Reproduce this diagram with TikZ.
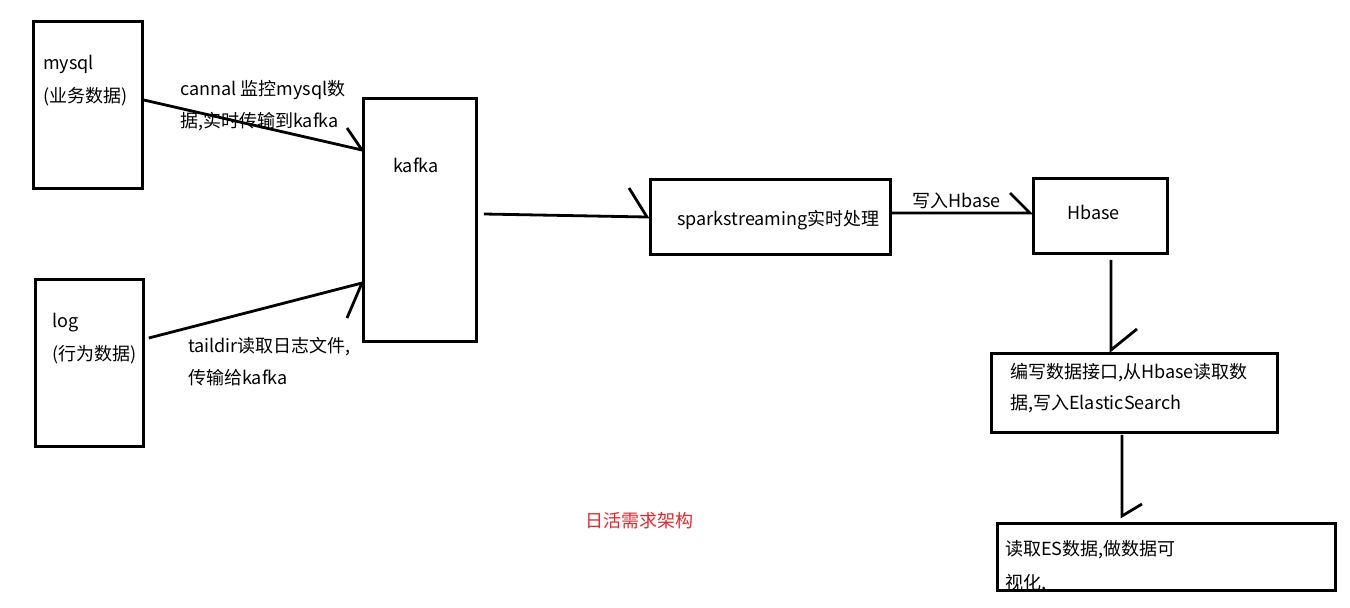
\documentclass[tikz,border=0pt]{standalone}
\usepackage{fontspec}
\setmainfont{Noto Sans CJK SC}
\usetikzlibrary{calc}
\definecolor{titlered}{RGB}{232,38,46}
\begin{document}
\begin{tikzpicture}[x=1pt,y=-1pt,
  box/.style={draw,line width=2.8pt,rectangle,inner sep=0pt,anchor=north west},
  lbl/.style={anchor=west,inner sep=0pt,font=\fontsize{18}{20}\selectfont},
  conn/.style={line width=2.8pt,line join=miter}]
\useasboundingbox[fill=white] (0,0) rectangle (1350,608);
% boxes
\node[box,minimum width=109pt,minimum height=167pt] (mysql) at (32,20) {};
\node[box,minimum width=108pt,minimum height=167pt] (log) at (34,278) {};
\node[box,minimum width=113pt,minimum height=243pt] (kafka) at (362,97) {};
\node[box,minimum width=240pt,minimum height=75pt] (spark) at (649,178) {};
\node[box,minimum width=134pt,minimum height=75pt] (hbase) at (1032,177) {};
\node[box,minimum width=286pt,minimum height=79pt] (api) at (990,352) {};
% texts
\node[lbl] (t1a) at (43,64) {mysql};
\node[lbl] (t1b) at (43,97) {(业务数据)};
\node[lbl] (t2a) at (52,323) {log};
\node[lbl] (t2b) at (52,355) {(行为数据)};
\node[lbl] (t3) at (393,165) {kafka};
\node[lbl] (t4a) at (180,90) {cannal\ 监控mysql数};
\node[lbl] (t4b) at (180,122) {据,实时传输到kafka};
\node[lbl] (t5a) at (188,347) {taildir读取日志文件,};
\node[lbl] (t5b) at (188,378) {传输给kafka};
\node[lbl] (t6) at (677,220) {sparkstreaming实时处理};
\node[lbl] (t7) at (912,201) {写入Hbase};
\node[lbl] (t8) at (1067,212) {Hbase};
\node[lbl] (t9a) at (1010,373) {编写数据接口,从Hbase读取数};
\node[lbl] (t9b) at (1010,404) {据,写入ElasticSearch};
\node[lbl,text=titlered] (title) at (585,521) {日活需求架构};
% ES box with clipped text
\coordinate (esnw) at (996,522);
\coordinate (esse) at (1334,589);
\begin{scope}
\clip (esnw) rectangle (esse);
\node[lbl] (t10a) at (1005,550) {读取ES数据,做数据可};
\node[lbl] (t10b) at (1005,584) {视化,};
\end{scope}
\node[box,minimum width=338pt,minimum height=67pt] (es) at (esnw) {};
% connectors with half arrowheads
\draw[conn] ($(mysql.north east)+(0,80)$) -- ($(kafka.north west)+(0,53)$) -- ++(-15,-22);
\draw[conn] ($(log.north east)+(4,60)$) -- ($(kafka.north west)+(0,186)$) -- ++(-15,35);
\draw[conn] ($(kafka.north east)+(6,117)$) -- ($(spark.north west)+(-2,39)$) -- ++(-18,-29);
\draw[conn] ($(spark.north east)+(0,35)$) -- ($(hbase.north west)+(-2,36)$) -- ++(-20,-20);
\draw[conn] ($(hbase.south west)+(79,5)$) -- ($(api.north west)+(121,-2)$) -- ++(26,-21);
\draw[conn] ($(api.south west)+(132,1)$) -- ($(es.north west)+(126,-6)$) -- ++(20,-12);
\end{tikzpicture}
\end{document}
